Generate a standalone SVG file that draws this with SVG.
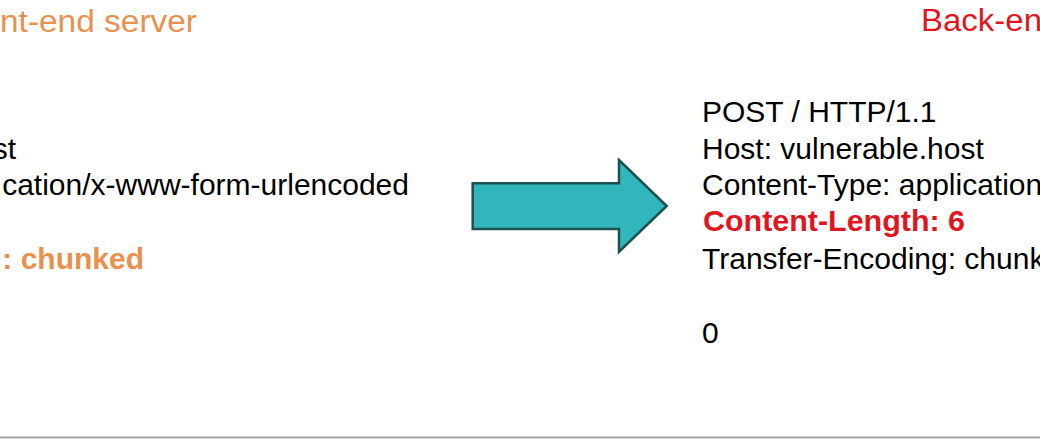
<svg xmlns="http://www.w3.org/2000/svg" width="1040" height="442" viewBox="0 0 1040 442">
<style>
text{font-family:"Liberation Sans",Arial,Helvetica,sans-serif;font-size:30px;fill:#000}
.title{font-size:31px}
.orange{fill:#E8914F}
.red{fill:#E0161E}
.b{font-weight:bold}
.end{text-anchor:end}
</style>
<rect width="1040" height="442" fill="#fff"/>
<g id="front-end">
<text class="title orange" x="0" y="32" textLength="197" lengthAdjust="spacingAndGlyphs">nt-end server</text>
<text class="end" x="16" y="158.7">st</text>
<text class="end" x="409" y="195.4">cation/x-www-form-urlencoded</text>
<text class="end orange b" x="144" y="268.8">: chunked</text>
</g>
<g id="connectors">
<path d="M472.7,183.3 H619 V160 L666.7,206 L619,251.7 V229 H472.7 Z" fill="#31B6BC" stroke="#1E4F51" stroke-width="2.5" stroke-linejoin="miter"/>
</g>
<g id="back-end">
<text class="title red" x="921" y="31" textLength="121" lengthAdjust="spacingAndGlyphs">Back-en</text>
<text x="702" y="122">POST / HTTP/1.1</text>
<text x="702" y="158.7">Host: vulnerable.host</text>
<text x="702" y="195.4">Content-Type: application</text>
<text class="red b" x="703" y="231" textLength="262" lengthAdjust="spacingAndGlyphs">Content-Length: 6</text>
<text x="702" y="268.8">Transfer-Encoding: chunk</text>
<text x="702" y="343">0</text>
</g>
<line x1="0" y1="437.5" x2="1040" y2="437.5" stroke="#A6A6A6" stroke-width="2"/>
</svg>
